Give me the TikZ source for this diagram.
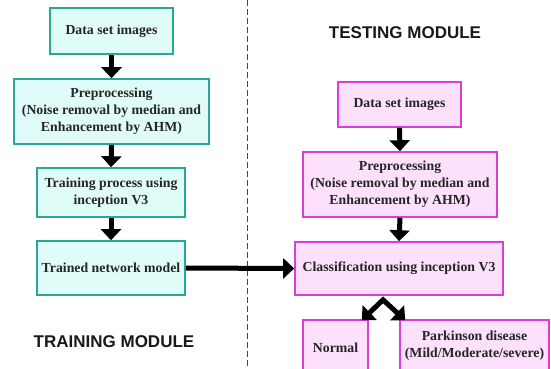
\documentclass[tikz,border=0pt]{standalone}
\usepackage{fontspec}
\setmainfont{Liberation Serif}
\newfontfamily\headfont{Liberation Sans}
\usetikzlibrary{arrows.meta,calc}
\definecolor{tealline}{RGB}{42,168,150}
\definecolor{tealfill}{RGB}{224,252,248}
\definecolor{magline}{RGB}{218,62,218}
\definecolor{magfill}{RGB}{252,224,252}
\definecolor{dashgray}{RGB}{70,70,70}
\tikzset{
  boxbase/.style={rectangle, line width=1.6pt, inner sep=2pt, align=center,
    font=\bfseries\fontsize{13.8}{17}\selectfont, text=black!85},
  trainbox/.style={boxbase, draw=tealline, fill=tealfill},
  testbox/.style={boxbase, draw=magline, fill=magfill},
  bigarrow/.style={line width=5pt, -{Triangle[width=20pt,length=11pt]}},
  heading/.style={font=\headfont\bfseries\fontsize{17}{19}\selectfont, text=black!90},
  divider/.style={dashgray, line width=1pt, dash pattern=on 6pt off 3pt}
}
\begin{document}
\begin{tikzpicture}[x=1pt,y=-1pt]
\useasboundingbox (0,0) rectangle (551,368);
\clip (0,0) rectangle (551,368);
\fill[white] (0,0) rectangle (551,368);

% divider
\coordinate (dtop) at (247,0);
\coordinate (dbot) at (247,368);
\draw[divider] (dtop) -- (dbot);

% training module
\node[trainbox, minimum width=123pt, minimum height=46pt] (tA) at (111.5,31) {Data set images};
\node[trainbox, minimum width=195pt, minimum height=65pt] (tB) at (111.5,111.5) {Preprocessing\\(Noise removal by median and\\Enhancement by AHM)};
\node[trainbox, minimum width=148pt, minimum height=49pt] (tC) at (111,192.5) {Training process using\\inception V3};
\node[trainbox, minimum width=148pt, minimum height=54pt] (tD) at (111,268) {Trained network model};
\node[heading] (trh) at (114,342) {TRAINING MODULE};

% testing module
\node[heading] (tsh) at (405,33) {TESTING MODULE};
\node[testbox, minimum width=123pt, minimum height=45pt] (sA) at (399.5,104.5) {Data set images};
\node[testbox, minimum width=194pt, minimum height=65pt] (sB) at (400,184.5) {Preprocessing\\(Noise removal by median and\\Enhancement by AHM)};
\node[testbox, minimum width=208pt, minimum height=53pt] (sC) at (399,268.5) {Classification using inception V3};
\node[testbox, minimum width=65pt, minimum height=56pt] (sN) at (335.5,348) {Normal};
\node[testbox, minimum width=149pt, minimum height=52pt] (sP) at (474.5,346) {Parkinson disease\\(Mild/Moderate/severe)};

% arrows
\draw[bigarrow] (tA.south) -- (tB.north);
\draw[bigarrow] (tB.south) -- (tC.north);
\draw[bigarrow] (tC.south) -- (tD.north);
\draw[bigarrow] (tD.east) -- (sC.west);
\draw[bigarrow] (sA.south) -- (sB.north);
\draw[bigarrow] (sB.south) -- (sC.north);

\coordinate (apex) at ($(sC.south)+(-16,4)$);
\coordinate (ltip) at ($(sN.north east)+(-7,1)$);
\coordinate (rtip) at ($(sP.north west)+(6,1)$);
\draw[line width=5pt, line join=miter, {Triangle[width=20pt,length=11pt]}-{Triangle[width=20pt,length=11pt]}] (ltip) -- (apex) -- (rtip);
\end{tikzpicture}
\end{document}
